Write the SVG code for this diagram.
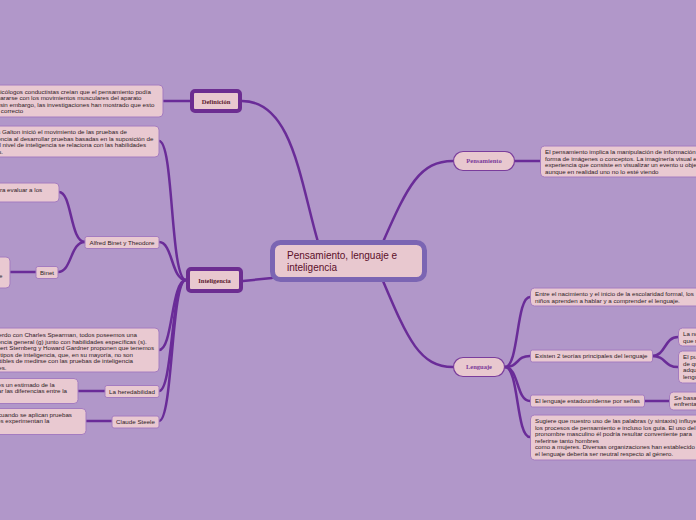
<svg xmlns="http://www.w3.org/2000/svg" width="696" height="520" viewBox="0 0 696 520">
<style>
.bg{fill:#b197c9}
.c{fill:none;stroke:#6a2c98;stroke-width:2.5;stroke-linecap:round}
.leaf{fill:#e9c9d1;stroke:#a47cc0;stroke-width:1}
.sub{fill:#e9c9d1;stroke:#a47cc0;stroke-width:1}
.t{font-family:"Liberation Sans",Arial,sans-serif;font-size:6.2px;fill:#2e2024}
.main{fill:#e8c8cf;stroke:#6c2d91;stroke-width:4}
.pill{fill:#e8c8cf;stroke:#7a3d9c;stroke-width:1.2}
.nt{font-family:"Liberation Serif","Times New Roman",serif;font-size:6.5px;font-weight:bold;fill:#5b1a2e;text-anchor:middle}
.pt{font-family:"Liberation Serif","Times New Roman",serif;font-size:6.5px;font-weight:bold;fill:#7a3a9a;text-anchor:middle}
.ct{font-family:"Liberation Sans",Arial,sans-serif;font-size:10px;fill:#5c0f2a}
.mid{text-anchor:middle}
</style>
<rect class="bg" x="0" y="0" width="696" height="520"/>
<g id="connectors">
<path class="c" d="M242,101 C292,101 300,180 318,242"/>
<path class="c" d="M272,278 L243,281"/>
<path class="c" d="M383,242 C408,185 420,161 453,161"/>
<path class="c" d="M383,281 C408,340 420,367 453,367"/>
<path class="c" d="M163,101 L190,101"/>
<path class="c" d="M186,280 C170,280 174,141 159,141"/>
<path class="c" d="M186,280 C171,280 173,242 159,242"/>
<path class="c" d="M186,280 C171,280 173,350 159,350"/>
<path class="c" d="M186,280 C171,280 173,391 159,391"/>
<path class="c" d="M186,280 C171,280 173,421 159,421"/>
<path class="c" d="M85,242 C70,242 72,192 59,192"/>
<path class="c" d="M85,242 C70,242 72,272 58,272"/>
<path class="c" d="M36,272 L10,272"/>
<path class="c" d="M78,391 L105,391"/>
<path class="c" d="M86,421 L112,421"/>
<path class="c" d="M515,161 L540,161"/>
<path class="c" d="M505,367 C519,367 516,297 530,297"/>
<path class="c" d="M505,367 C519,367 516,356 530,356"/>
<path class="c" d="M505,367 C519,367 516,401 530,401"/>
<path class="c" d="M505,367 C519,367 516,437 530,437"/>
<path class="c" d="M652,356 C666,356 664,337 678,337"/>
<path class="c" d="M652,356 C666,356 664,367 678,367"/>
<path class="c" d="M644,401 L669,401"/>
</g>
<g id="central">
<rect x="272.5" y="242.5" width="152" height="37" rx="8" fill="#e8c8cf" stroke="#7b65b3" stroke-width="5"/>
<text class="ct" x="287" y="259">Pensamiento, lenguaje e</text>
<text class="ct" x="287" y="271">inteligencia</text>
</g>
<g id="definicion">
<rect class="main" x="192" y="91" width="48" height="20" rx="3"/>
<text class="nt" x="216" y="103.5">Definición</text>
</g>
<g id="definicion-leaf">
<rect class="leaf" x="-100" y="85" width="263" height="32" rx="4"/>
<text class="t" x="-18" y="93.5">Los psicólogos conductistas creían que el pensamiento podía</text>
<text class="t" x="-15" y="100">equipararse con los movimientos musculares del aparato</text>
<text class="t" x="-18" y="106.5">vocal; sin embargo, las investigaciones han mostrado que esto</text>
<text class="t" x="-16" y="113">no es correcto</text>
</g>
<g id="inteligencia">
<rect class="main" x="188" y="269" width="53" height="22" rx="3"/>
<text class="nt" x="214.5" y="282.5">Inteligencia</text>
</g>
<g id="galton">
<rect class="leaf" x="-100" y="126" width="259" height="31" rx="4"/>
<text class="t" x="-20" y="134">Francis Galton inició el movimiento de las pruebas de</text>
<text class="t" x="-19" y="140.5">inteligencia al desarrollar pruebas basadas en la suposición de</text>
<text class="t" x="-16" y="147">que el nivel de inteligencia se relaciona con las habilidades</text>
<text class="t" x="-30" y="153.5">sensoriales.</text>
</g>
<g id="binet-leaf">
<rect class="leaf" x="-100" y="183" width="159" height="19" rx="4"/>
<text class="t" x="-7" y="191.5">para evaluar a los</text>
</g>
<g id="alfred">
<rect class="sub" x="85" y="236.5" width="74" height="12" rx="2"/>
<text class="t mid" x="122" y="244.7">Alfred Binet y Theodore</text>
</g>
<g id="binet">
<rect class="sub" x="36" y="266.5" width="22" height="12" rx="2"/>
<text class="t mid" x="47" y="274.7">Binet</text>
</g>
<g id="binet-e">
<rect class="leaf" x="-100" y="257" width="110" height="31" rx="4"/>
<text class="t" x="-1" y="277.5">e</text>
</g>
<g id="spearman">
<rect class="leaf" x="-100" y="328" width="259" height="44" rx="4"/>
<text class="t" x="-21" y="337">De acuerdo con Charles Spearman, todos poseemos una</text>
<text class="t" x="-19" y="343.5">inteligencia general (g) junto con habilidades específicas (s).</text>
<text class="t" x="-11" y="350">Robert Sternberg y Howard Gardner proponen que tenemos</text>
<text class="t" x="-18" y="356.5">varios tipos de inteligencia, que, en su mayoría, no son</text>
<text class="t" x="-20" y="363">susceptibles de medirse con las pruebas de inteligencia</text>
<text class="t" x="-30" y="369.5">tradicionales.</text>
</g>
<g id="heredabilidad-leaf">
<rect class="leaf" x="-100" y="378.5" width="178" height="25" rx="4"/>
<text class="t" x="-2.5" y="386.5">es un estimado de la</text>
<text class="t" x="-18" y="393">explicar las diferencias entre la</text>
</g>
<g id="heredabilidad">
<rect class="sub" x="105" y="385.5" width="54" height="12" rx="2"/>
<text class="t mid" x="132" y="393.7">La heredabilidad</text>
</g>
<g id="steele-leaf">
<rect class="leaf" x="-100" y="408.5" width="186" height="26" rx="4"/>
<text class="t" x="-2" y="416.5">cuando se aplican pruebas</text>
<text class="t" x="-28" y="423">estudiantes experimentan la</text>
</g>
<g id="steele">
<rect class="sub" x="112" y="416" width="47" height="12" rx="2"/>
<text class="t mid" x="135.5" y="424.2">Claude Steele</text>
</g>
<g id="pensamiento">
<rect class="pill" x="453.5" y="151.5" width="61" height="19" rx="9.5"/>
<text class="pt" x="484" y="163.3">Pensamiento</text>
</g>
<g id="pensamiento-leaf">
<rect class="leaf" x="540.5" y="146" width="200" height="31" rx="4"/>
<text class="t" x="545" y="154">El pensamiento implica la manipulación de información en</text>
<text class="t" x="545" y="160.5">forma de imágenes o conceptos. La imaginería visual es una</text>
<text class="t" x="545" y="167">experiencia que consiste en visualizar un evento u objeto</text>
<text class="t" x="545" y="173.5">aunque en realidad uno no lo esté viendo</text>
</g>
<g id="lenguaje">
<rect class="pill" x="453.5" y="357.5" width="51" height="19" rx="9.5"/>
<text class="pt" x="479" y="369.3">Lenguaje</text>
</g>
<g id="lenguaje-leaf1">
<rect class="leaf" x="530.5" y="288" width="200" height="18" rx="4"/>
<text class="t" x="535" y="296">Entre el nacimiento y el inicio de la escolaridad formal, los</text>
<text class="t" x="535" y="302.5">niños aprenden a hablar y a comprender el lenguaje.</text>
</g>
<g id="teorias">
<rect class="sub" x="530.5" y="350" width="122" height="12" rx="2"/>
<text class="t" x="535" y="358.2">Existen 2 teorías principales del lenguaje</text>
</g>
<g id="teoria1">
<rect class="leaf" x="678.5" y="328" width="60" height="18" rx="4"/>
<text class="t" x="683" y="336">La noción</text>
<text class="t" x="683" y="342.5">que requiere</text>
</g>
<g id="teoria2">
<rect class="leaf" x="678.5" y="351" width="60" height="32" rx="4"/>
<text class="t" x="683" y="359">El punto de vista</text>
<text class="t" x="683" y="365.5">de que existe</text>
<text class="t" x="683" y="372">adquisición del</text>
<text class="t" x="683" y="378.5">lenguaje.</text>
</g>
<g id="senas">
<rect class="sub" x="530.5" y="395" width="114" height="12" rx="2"/>
<text class="t" x="535" y="403.2">El lenguaje estadounidense por señas</text>
</g>
<g id="senas-leaf">
<rect class="leaf" x="669.5" y="392" width="70" height="18" rx="4"/>
<text class="t" x="674" y="399.5">Se basa en</text>
<text class="t" x="674" y="406">enfrentar</text>
</g>
<g id="sugiere">
<rect class="leaf" x="530.5" y="415" width="200" height="45" rx="4"/>
<text class="t" x="535" y="423">Sugiere que nuestro uso de las palabras (y sintaxis) influye en</text>
<text class="t" x="535" y="429.5">los procesos de pensamiento e incluso los guía. El uso del</text>
<text class="t" x="535" y="436">pronombre masculino él podría resultar conveniente para</text>
<text class="t" x="535" y="442.5">referirse tanto hombres</text>
<text class="t" x="535" y="449"> como a mujeres. Diversas organizaciones han establecido que</text>
<text class="t" x="535" y="455.5">el lenguaje debería ser neutral respecto al género.</text>
</g>
</svg>
